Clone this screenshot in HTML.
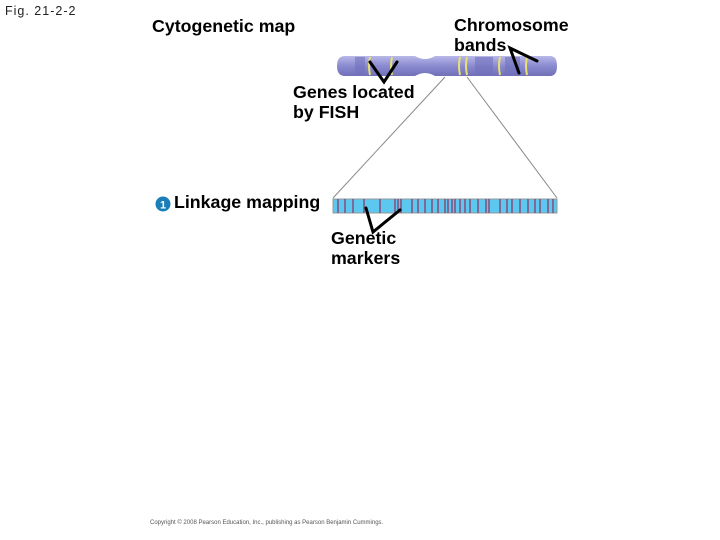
<!DOCTYPE html>
<html><head><style>
body{margin:0;width:720px;height:540px;background:#fff;position:relative;overflow:hidden;font-family:"Liberation Sans",sans-serif}
.t{position:absolute;font-weight:bold;font-size:17.8px;color:#000;line-height:19.5px}
</style></head><body>
<div style="position:absolute;left:5px;top:4px;font-size:12.5px;letter-spacing:1px;color:#222">Fig. 21-2-2</div>
<div class="t" style="left:152px;top:17px">Cytogenetic map</div>
<div class="t" style="left:454px;top:16px">Chromosome<br>bands</div>
<div class="t" style="left:293px;top:83px">Genes located<br>by FISH</div>
<div class="t" style="left:174px;top:193px">Linkage mapping</div>
<div class="t" style="left:331px;top:229px">Genetic<br>markers</div>
<div style="position:absolute;left:150px;top:520px;font-size:6px;color:#555">Copyright © 2008 Pearson Education, Inc., publishing as Pearson Benjamin Cummings.</div>
<svg width="720" height="540" style="position:absolute;left:0;top:0">
<defs><linearGradient id="g" x1="0" y1="0" x2="0" y2="1"><stop offset="0" stop-color="#b8b8e8"/><stop offset="0.5" stop-color="#8a8ad0"/><stop offset="1" stop-color="#7070b8"/></linearGradient></defs>
<path d="M345,56 H415 Q425,62 435,56 H550 Q557,56 557,66 Q557,76 550,76 H435 Q425,70 415,76 H345 Q337,76 337,66 Q337,56 345,56Z" fill="url(#g)"/>
<g stroke="#e8e070" stroke-width="2" fill="none">
<path d="M370,57 q-2,9 0,18"/><path d="M392,57 q-2,9 0,18"/><path d="M460,57 q-2,9 0,18"/><path d="M467,57 q-2,9 0,18"/><path d="M500,57 q-2,9 0,18"/><path d="M527,57 q-2,9 0,18"/>
</g>
<g fill="#7272bc" opacity="0.6"><rect x="355" y="57" width="10" height="18"/><rect x="475" y="57" width="18" height="18"/><rect x="505" y="57" width="15" height="18"/></g>
<g stroke="#888" stroke-width="1"><line x1="445" y1="77" x2="333" y2="198"/><line x1="467" y1="77" x2="557" y2="198"/></g>
<circle cx="163" cy="204" r="7.5" fill="#1a7fb8"/>
<text x="163" y="208.5" font-size="11" font-weight="bold" fill="#fff" text-anchor="middle" font-family="Liberation Sans">1</text>
<rect x="333" y="199" width="224" height="14" fill="#5cc8f0" stroke="#999" stroke-width="1"/>
<g stroke="#8a4a78" stroke-width="1.5">
<line x1="338" y1="199" x2="338" y2="213"/><line x1="345" y1="199" x2="345" y2="213"/><line x1="353" y1="199" x2="353" y2="213"/><line x1="364" y1="199" x2="364" y2="213"/><line x1="380" y1="199" x2="380" y2="213"/><line x1="395" y1="199" x2="395" y2="213"/><line x1="398" y1="199" x2="398" y2="213"/><line x1="401" y1="199" x2="401" y2="213"/><line x1="412" y1="199" x2="412" y2="213"/><line x1="418" y1="199" x2="418" y2="213"/><line x1="425" y1="199" x2="425" y2="213"/><line x1="432" y1="199" x2="432" y2="213"/><line x1="438" y1="199" x2="438" y2="213"/><line x1="445" y1="199" x2="445" y2="213"/><line x1="448" y1="199" x2="448" y2="213"/><line x1="452" y1="199" x2="452" y2="213"/><line x1="455" y1="199" x2="455" y2="213"/><line x1="460" y1="199" x2="460" y2="213"/><line x1="465" y1="199" x2="465" y2="213"/><line x1="470" y1="199" x2="470" y2="213"/><line x1="478" y1="199" x2="478" y2="213"/><line x1="486" y1="199" x2="486" y2="213"/><line x1="489" y1="199" x2="489" y2="213"/><line x1="500" y1="199" x2="500" y2="213"/><line x1="507" y1="199" x2="507" y2="213"/><line x1="512" y1="199" x2="512" y2="213"/><line x1="520" y1="199" x2="520" y2="213"/><line x1="528" y1="199" x2="528" y2="213"/><line x1="535" y1="199" x2="535" y2="213"/><line x1="540" y1="199" x2="540" y2="213"/><line x1="548" y1="199" x2="548" y2="213"/><line x1="553" y1="199" x2="553" y2="213"/>
</g>
<g stroke="#000" stroke-width="3" fill="none" stroke-linecap="round">
<polyline points="370,62 384,82 397,62"/>
<polyline points="537,61 510,48 519,73"/>
<polyline points="366,208 373,232 400,210"/>
</g>
</svg>
</body></html>
